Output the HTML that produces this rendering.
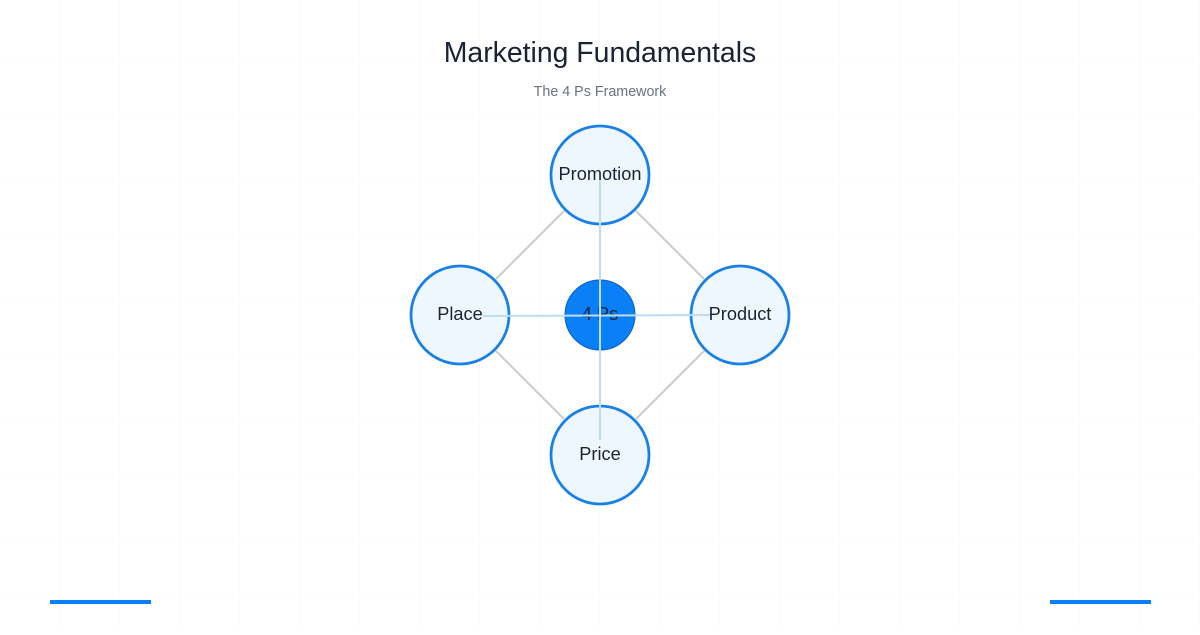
<!DOCTYPE html>
<html><head><meta charset="utf-8"><style>
html,body{margin:0;padding:0;background:#fff}
body{width:1200px;height:630px;overflow:hidden;font-family:"Liberation Sans",sans-serif}
</style></head><body>
<svg width="1200" height="630" viewBox="0 0 1200 630" xmlns="http://www.w3.org/2000/svg">
<defs><pattern id="g" width="60" height="60" patternUnits="userSpaceOnUse"><path d="M60 0V60M0 60H60" fill="none" stroke="#f9fafb" stroke-width="1"/></pattern></defs>
<rect width="1200" height="630" fill="#fff"/>
<rect width="1200" height="630" fill="url(#g)"/>
<text x="600" y="62" text-anchor="middle" font-size="28.4" fill="#1a2233">Marketing Fundamentals</text>
<text x="600" y="96" text-anchor="middle" font-size="14.3" fill="#6b7280">The 4 Ps Framework</text>
<g stroke="#cccccc" stroke-width="2">
<line x1="564" y1="211" x2="496" y2="279"/>
<line x1="636" y1="211" x2="704" y2="279"/>
<line x1="496" y1="351" x2="564" y2="419"/>
<line x1="704" y1="351" x2="636" y2="419"/>
</g>
<g fill="#eff7fe" stroke="#1a80e6" stroke-width="2.8">
<circle cx="600" cy="175" r="49"/>
<circle cx="460" cy="315" r="49"/>
<circle cx="740" cy="315" r="49"/>
<circle cx="600" cy="455" r="49"/>
</g>
<circle cx="600" cy="315" r="35" fill="#0a80f8" stroke="#0a5fc2" stroke-width="1"/>
<g font-size="18.2" fill="#1a2233" text-anchor="middle">
<text x="600" y="180">Promotion</text>
<text x="460" y="320">Place</text>
<text x="740" y="320">Product</text>
<text x="600" y="460">Price</text>
<text x="600" y="320">4 Ps</text>
</g>
<g stroke="#bcdcf3" stroke-width="2">
<line x1="483" y1="316" x2="710" y2="315"/>
<line x1="600" y1="180" x2="600" y2="440"/>
</g>
<rect x="50" y="600" width="101" height="4" fill="#0a80f8"/>
<rect x="1050" y="600" width="101" height="4" fill="#0a80f8"/>
</svg>
</body></html>
